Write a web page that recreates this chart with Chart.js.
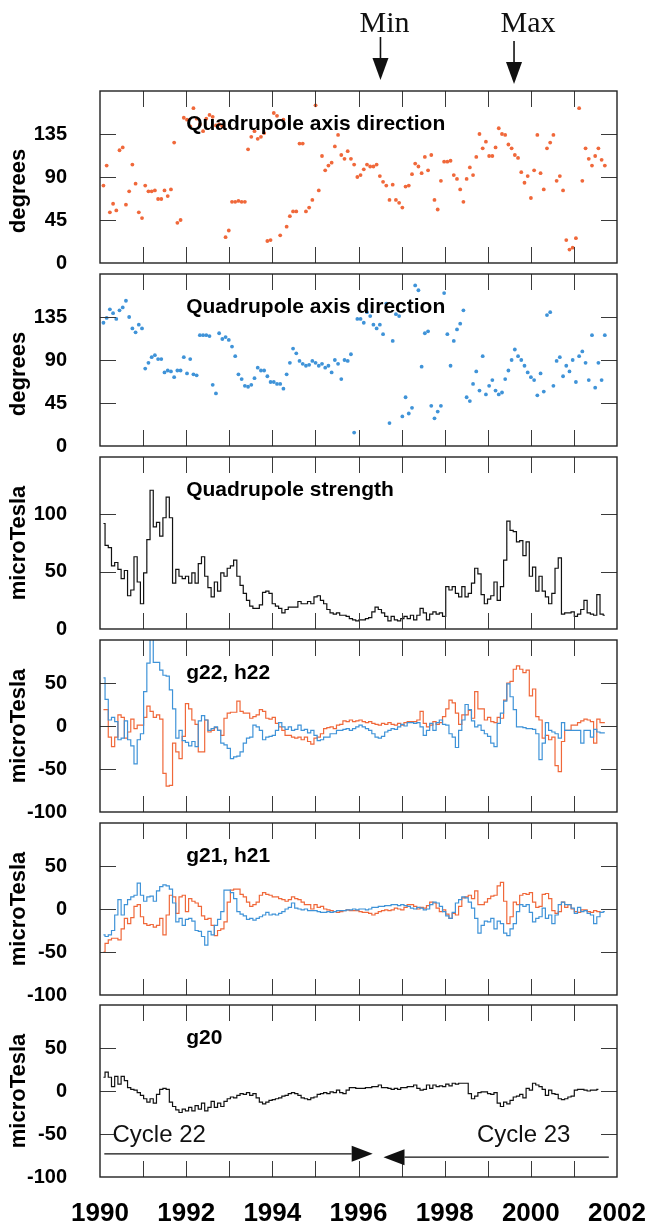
<!DOCTYPE html>
<html>
<head>
<meta charset="utf-8">
<script src="https://cdn.jsdelivr.net/npm/chart.js@4.4.1/dist/chart.umd.min.js"></script>
<style>
  html, body { margin: 0; padding: 0; background: #fff; }
  #wrap { position: relative; width: 652px; height: 1224px; overflow: hidden; background: #fff; }
  #wrap canvas { position: absolute; left: 0; }
</style>
</head>
<body>
<div id="wrap">
  <canvas id="p1"></canvas>
  <canvas id="p2"></canvas>
  <canvas id="p3"></canvas>
  <canvas id="p4"></canvas>
  <canvas id="p5"></canvas>
  <canvas id="p6"></canvas>
</div>
<script>
/* Quadrupole coefficients, one value per solar rotation, 1990-2001 */

// time grid: first rotation and rotation length in years
const T0 = 1990.08;
const ROT = 0.0746;

const yearTicks = [1990, 1992, 1994, 1996, 1998, 2000, 2002];

// panel 1 - quadrupole axis direction (degrees), orange
const axisDirA = [
    81, 102, 53, 62, 55, 118, 121, 61, 75, 103,
    83, 53, 47, 81, 75, 75, 76, 67, 67, 76,
    70, 77, 126, 42, 45, 152, 150, 143, 162, 151,
    145, 138, 151, 155, 153, 144, 145, 143, 27, 34,
    64, 64, 65, 64, 64, 119, 132, 138, 130, 132,
    136, 23, 24, 157, 154, 29, 150, 38, 49, 54,
    54, 125, 125, 54, 58, 66, 165, 76, 112, 97,
    102, 105, 122, 134, 113, 109, 117, 109, 103, 90,
    92, 98, 103, 101, 101, 103, 91, 85, 81, 66,
    82, 66, 63, 58, 80, 81, 93, 104, 101, 94,
    111, 97, 113, 66, 56, 86, 106, 106, 107, 92,
    88, 77, 64, 88, 100, 92, 111, 135, 120, 127,
    112, 112, 121, 141, 135, 134, 124, 120, 113, 110,
    95, 84, 91, 68, 97, 134, 94, 77, 120, 126,
    134, 86, 91, 76, 24, 14, 16, 26, 162, 86,
    120, 109, 102, 112, 120, 108, 102,
];

// panel 2 - quadrupole axis direction (degrees), blue
const axisDirB = [
    129, 134, 143, 139, 133, 142, 145, 152, 135, 123,
    119, 127, 123, 81, 87, 93, 95, 91, 91, 77,
    79, 78, 72, 79, 79, 93, 76, 91, 75, 74,
    116, 116, 116, 115, 64, 55, 118, 112, 114, 111,
    104, 94, 75, 70, 63, 62, 64, 71, 82, 79,
    79, 73, 67, 67, 65, 65, 60, 75, 87, 102,
    97, 89, 86, 84, 85, 89, 87, 84, 86, 82,
    84, 77, 90, 86, 70, 90, 89, 96, 14, 133,
    133, 129, 140, 136, 127, 123, 127, 117, 149, 24,
    110, 138, 136, 31, 51, 34, 40, 168, 163, 83,
    118, 120, 42, 29, 36, 42, 160, 117, 84, 110,
    122, 128, 142, 51, 47, 65, 78, 58, 94, 54,
    63, 69, 58, 54, 56, 70, 79, 90, 101, 94,
    90, 84, 77, 72, 69, 53, 76, 57, 137, 140,
    63, 89, 93, 73, 84, 78, 90, 67, 94, 99,
    87, 69, 116, 61, 87, 69, 116,
];

// panel 3 - quadrupole strength (microTesla)
const strength = [
    92, 73, 71, 55, 58, 52, 44, 51, 29, 34,
    63, 41, 22, 49, 78, 121, 89, 93, 81, 97,
    115, 97, 40, 52, 46, 44, 46, 40, 49, 40,
    57, 63, 46, 36, 28, 41, 33, 49, 46, 53,
    55, 60, 46, 38, 31, 25, 20, 18, 18, 21,
    32, 33, 31, 22, 20, 18, 14, 17, 19, 19,
    19, 24, 22, 22, 24, 22, 28, 29, 25, 22,
    17, 14, 13, 14, 12, 12, 11, 9, 8, 7,
    8, 8, 9, 10, 15, 19, 17, 14, 11, 7,
    11, 8, 7, 9, 11, 9, 12, 8, 12, 18,
    14, 8, 13, 15, 13, 14, 11, 37, 34, 37,
    31, 28, 37, 28, 31, 40, 53, 48, 30, 22,
    26, 29, 41, 25, 37, 60, 94, 86, 85, 76,
    77, 64, 76, 46, 54, 33, 46, 33, 28, 22,
    31, 53, 62, 13, 14, 14, 15, 11, 13, 17,
    25, 14, 13, 12, 30, 13, 12,
];

// panel 4 - g22 (orange), h22 (blue)
const g22 = [
    19, 19, -13, -24, -13, 13, 10, -14, -7, 8,
    -3, 1, 1, 10, 23, 17, 10, 13, 8, -55,
    -70, -69, -20, -30, -38, -12, 26, 20, 7, 2,
    -30, -30, 7, -7, -5, -2, -5, -11, 9, 15,
    16, 16, 29, 17, 15, 15, 9, 11, 13, 19,
    17, 9, 8, 10, 3, -1, -5, -11, -11, -13,
    -14, -13, -16, -13, -18, -21, -14, -13, -9, -3,
    -2, -1, -3, 1, 2, 6, 5, 7, 5, 6,
    7, 5, 4, 5, 3, 2, 1, 3, 2, 4,
    2, 1, 3, 1, 4, 5, 5, 5, 7, 17,
    3, -1, 1, 5, 2, 4, 11, 20, 30, 27,
    15, 2, 13, 13, 18, 9, 40, 20, 20, 7,
    10, 5, 4, 10, 9, 30, 50, 52, 66, 70,
    66, 62, 65, 35, 43, 11, 7, -14, -11, -16,
    -13, -46, -53, -18, -5, -5, 1, 1, 4, 6,
    8, 7, 5, -20, 8, 4, 4,
];
const h22 = [
    56, 31, 7, 10, 5, -16, -14, 6, -16, -23,
    -44, -16, -9, 40, 73, 110, 74, 74, 65, 59,
    58, 42, 20, -14, -5, -17, -19, -23, -18, -24,
    6, 12, 7, -5, -3, -1, -5, -20, -22, -26,
    -38, -36, -35, -30, -20, -14, -13, 1, -1, -5,
    -16, -13, -12, -11, -5, 4, -1, -4, -1, -5,
    -4, 1, -5, -4, -8, -5, -11, -17, -16, -13,
    -13, -9, -9, -5, -5, -4, -3, -5, -3, -1,
    1, -1, -3, -5, -9, -13, -14, -12, -7, -5,
    -3, -4, -1, 2, 0, 4, 4, 3, 4, -1,
    -11, -5, 3, -5, 4, 7, 2, 1, -9, -13,
    -25, -5, 7, 25, 19, 6, -1, 1, -5, -9,
    -12, -20, -24, 3, 15, 29, 49, 34, 19, -1,
    -1, -2, -3, -3, -4, -9, -39, -20, 4, -5,
    -7, -9, -14, 4, -5, -5, -5, -5, -5, -20,
    -5, -5, -13, -4, -7, -8, -8,
];

// panel 5 - g21 (orange), h21 (blue)
const g21 = [
    -50, -40, -36, -34, -34, -36, -23, -11, -17, -10,
    3, 5, -9, -17, -19, -18, -21, -19, -11, -30,
    -7, 16, 14, -5, 14, 16, -3, 12, 9, 7,
    3, -8, -12, -11, -19, -31, -25, -23, -15, 8,
    22, 23, 23, 17, 14, 8, 3, 5, 8, 16,
    19, 17, 16, 14, 14, 12, 11, 9, 11, 14,
    12, 11, 8, 5, 5, 0, 5, 2, 3, 0,
    -1, -2, -3, -4, -3, -2, -1, -2, -2, -2,
    -3, -4, -4, -5, -7, -5, -3, -2, -1, -2,
    -1, 1, 0, -1, 2, 5, 5, 3, 0, 2,
    1, 4, 8, 7, 1, -3, -1, -6, -11, -5,
    -7, 3, 13, 14, 16, 12, 21, 5, 5, 8,
    12, 15, 16, 27, 31, 9, -17, -9, 8, 5,
    16, 18, 17, 19, 8, 2, 3, 17, 18, 12,
    -2, -5, -3, 8, 2, 5, 0, -3, -4, -1,
    -1, -3, -4, -2, -3, -4,
];
const h21 = [
    -30, -32, -30, -25, -7, 11, -7, 5, 11, 14,
    16, 30, 16, 9, 14, 15, 9, 21, 26, 28,
    27, 23, 7, -15, -11, -19, -12, -11, -14, -25,
    -26, -32, -42, -26, -30, -19, -12, -3, 22, 22,
    19, 12, -3, -6, -8, -12, -11, -13, -11, -9,
    -7, -4, -7, -6, -7, -5, -3, 0, 2, 7,
    1, 0, -1, 0, -2, -2, -2, -3, -4, -4,
    -3, -4, -3, -2, -2, -2, -1, -1, 0, -1,
    0, 0, -1, 0, 2, 2, 3, 3, 4, 4,
    5, 5, 4, 5, 4, 3, 1, 0, 2, 1,
    -1, 0, 5, 8, 7, 3, -3, -8, -11, -4,
    7, 11, 14, 13, 8, 1, -11, -28, -19, -14,
    -15, -11, -23, -14, -17, -28, -31, -23, -17, -3,
    5, 3, 5, -4, -15, -11, -9, 1, -11, -7,
    -17, -7, 5, 8, 5, 5, 1, -5, 2, -3,
    -2, -5, -7, -17, -9, -4, -3,
];

// panel 6 - g20
const g20 = [
    16, 22, 16, 5, 17, 8, 17, 12, 4, 2,
    1, -2, -5, -9, -13, -9, -14, -4, 2, 3,
    2, -13, -18, -22, -25, -21, -23, -19, -23, -17,
    -21, -14, -23, -19, -12, -19, -14, -18, -12, -9,
    -7, -8, -5, -3, -4, -2, -5, -3, -8, -13,
    -15, -13, -11, -10, -9, -8, -6, -5, -3, -2,
    -3, -5, -8, -9, -10, -8, -7, -4, -3, -2,
    -3, -1, -2, 1, -2, -3, 1, 4, 4, 3,
    3, 3, 4, 4, 5, 5, 7, 4, 4, 3,
    2, 3, 2, 4, 4, 5, 5, 7, 3, 1,
    2, 7, 3, 7, 5, 6, 5, 8, 6, 9,
    8, 9, 9, 9, -3, -9, -6, -2, -1, -1,
    -3, -4, -2, -14, -18, -13, -15, -11, -7, -6,
    -4, -8, 3, 1, 9, 7, 5, 2, -5, 1,
    -3, -4, -9, -10, -9, -7, -6, 1, 2, 2,
    1, 0, 1, 1, 2,
];

// solar cycle marks
const cycleMin = 1996.51;
const cycleMax = 1999.61;

const RED = '#f0683a';
const BLUE = '#3f93d8';
const BLACK = '#111111';
const SANS = '"Liberation Sans", Arial, Helvetica, sans-serif';
const SERIF = '"Liberation Serif", "Times New Roman", serif';

const PAGE_H = 1224;
const LEFT = 100;
const RIGHT = 617;
const PANEL_H = 172;

function toXY(vals) {
    return vals.map((v, i) => ({ x: T0 + i * ROT, y: v }));
}

function pointSet(label, vals, color) {
    return {
        label, data: toXY(vals), showLine: false,
        pointStyle: 'circle', pointRadius: 1.9, pointBorderWidth: 0,
        pointBackgroundColor: color, borderColor: color,
    };
}

function stepSet(label, vals, color) {
    return {
        label, data: toXY(vals), stepped: 'middle',
        borderColor: color, borderWidth: 1.2, pointRadius: 0, fill: false,
    };
}

// arrow with filled triangular head, coordinates in pixels
function arrow(ctx, x1, y1, x2, y2, headLen, headHalf) {
    const ang = Math.atan2(y2 - y1, x2 - x1);
    const bx = x2 - headLen * Math.cos(ang);
    const by = y2 - headLen * Math.sin(ang);
    ctx.beginPath();
    ctx.moveTo(x1, y1);
    ctx.lineTo(bx, by);
    ctx.stroke();
    ctx.beginPath();
    ctx.moveTo(x2, y2);
    ctx.lineTo(bx + headHalf * Math.sin(ang), by - headHalf * Math.cos(ang));
    ctx.lineTo(bx - headHalf * Math.sin(ang), by + headHalf * Math.cos(ang));
    ctx.closePath();
    ctx.fill();
}

const panelDecor = {
    id: 'panelDecor',
    afterDatasetsDraw(chart, args, opts) {
        const { ctx, chartArea: a, scales: { x, y } } = chart;
        ctx.save();
        // inward ticks
        ctx.strokeStyle = '#3a3a3a';
        ctx.lineWidth = 1;
        ctx.beginPath();
        for (let yr = x.min + 1; yr < x.max; yr++) {
            const px = Math.round(x.getPixelForValue(yr)) + 0.5;
            ctx.moveTo(px, a.top); ctx.lineTo(px, a.top + 16);
            ctx.moveTo(px, a.bottom); ctx.lineTo(px, a.bottom - 16);
        }
        y.ticks.forEach(t => {
            if (t.value <= y.min || t.value >= y.max) return;
            const py = Math.round(y.getPixelForValue(t.value)) + 0.5;
            ctx.moveTo(a.left, py); ctx.lineTo(a.left + 16, py);
            ctx.moveTo(a.right, py); ctx.lineTo(a.right - 16, py);
        });
        ctx.stroke();
        // frame
        ctx.strokeStyle = '#222';
        ctx.lineWidth = 1.4;
        ctx.strokeRect(a.left, a.top, a.right - a.left, a.bottom - a.top);
        // title
        ctx.fillStyle = '#000';
        ctx.font = 'bold 21px ' + SANS;
        ctx.textAlign = 'left';
        ctx.textBaseline = 'alphabetic';
        ctx.fillText(opts.title, x.getPixelForValue(1992), a.top + 39);
        // y axis title
        ctx.save();
        ctx.translate(19, (a.top + a.bottom) / 2 + (opts.yShift || 0));
        ctx.rotate(-Math.PI / 2);
        ctx.font = 'bold 22px ' + SANS;
        ctx.textAlign = 'center';
        ctx.textBaseline = 'middle';
        ctx.fillText(opts.yTitle, 0, 0);
        ctx.restore();
        if (opts.extra) opts.extra(chart);
        ctx.restore();
    },
};

function drawMinMax(chart) {
    const { ctx, scales: { x } } = chart;
    ctx.fillStyle = '#111';
    ctx.strokeStyle = '#111';
    ctx.lineWidth = 1.6;
    const xm = x.getPixelForValue(cycleMin);
    const xM = x.getPixelForValue(cycleMax);
    arrow(ctx, xm, 37, xm, 80, 22, 8);
    arrow(ctx, xM, 41, xM, 84, 22, 8);
    ctx.font = '30px ' + SERIF;
    ctx.textAlign = 'center';
    ctx.textBaseline = 'alphabetic';
    ctx.fillText('Min', xm + 4, 32);
    ctx.fillText('Max', xM + 14, 32);
}

function drawCycles(chart) {
    const { ctx, scales: { x, y } } = chart;
    ctx.fillStyle = '#111';
    ctx.strokeStyle = '#111';
    ctx.lineWidth = 1.3;
    arrow(ctx, x.getPixelForValue(1990.1), y.getPixelForValue(-73),
        x.getPixelForValue(1996.33), y.getPixelForValue(-73), 21, 8);
    arrow(ctx, x.getPixelForValue(2001.81), y.getPixelForValue(-77),
        x.getPixelForValue(1996.58), y.getPixelForValue(-77), 21, 8);
    ctx.font = '24px ' + SANS;
    ctx.textAlign = 'left';
    ctx.textBaseline = 'alphabetic';
    ctx.fillText('Cycle 22', x.getPixelForValue(1990.29), y.getPixelForValue(-59));
    ctx.fillText('Cycle 23', x.getPixelForValue(1998.75), y.getPixelForValue(-59));
}

const PANELS = [
    { id: 'p1', top: 91, min: 0, max: 180, step: 45, title: 'Quadrupole axis direction',
      yTitle: 'degrees', yShift: 14, extra: drawMinMax,
      datasets: [pointSet('axis direction', axisDirA, RED)] },
    { id: 'p2', top: 274, min: 0, max: 180, step: 45, title: 'Quadrupole axis direction',
      yTitle: 'degrees', yShift: 14,
      datasets: [pointSet('axis direction', axisDirB, BLUE)] },
    { id: 'p3', top: 457, min: 0, max: 150, step: 50, title: 'Quadrupole strength',
      yTitle: 'microTesla',
      datasets: [stepSet('strength', strength, BLACK)] },
    { id: 'p4', top: 640, min: -100, max: 100, step: 50, title: 'g22, h22',
      yTitle: 'microTesla',
      datasets: [stepSet('h22', h22, BLUE), stepSet('g22', g22, RED)] },
    { id: 'p5', top: 823, min: -100, max: 100, step: 50, title: 'g21, h21',
      yTitle: 'microTesla',
      datasets: [stepSet('h21', h21, BLUE), stepSet('g21', g21, RED)] },
    { id: 'p6', top: 1005, min: -100, max: 100, step: 50, title: 'g20',
      yTitle: 'microTesla', extra: drawCycles, last: true,
      datasets: [stepSet('g20', g20, BLACK)] },
];

PANELS.forEach((p, i) => {
    const canvas = document.getElementById(p.id);
    const cTop = i === 0 ? 0 : p.top - 12;
    const cH = p.last ? PAGE_H - cTop : p.top + PANEL_H + 12 - cTop;
    canvas.width = 652;
    canvas.height = cH;
    canvas.style.top = cTop + 'px';
    canvas.style.width = '652px';
    canvas.style.height = cH + 'px';

    new Chart(canvas, {
        type: 'line',
        data: { datasets: p.datasets },
        plugins: [panelDecor],
        options: {
            responsive: false,
            animation: false,
            devicePixelRatio: 1,
            layout: { padding: { top: p.top - cTop, bottom: p.last ? 0 : 12, left: 0, right: 652 - RIGHT } },
            plugins: {
                legend: { display: false },
                tooltip: { enabled: false },
                panelDecor: { title: p.title, yTitle: p.yTitle, yShift: p.yShift, extra: p.extra },
            },
            scales: {
                x: {
                    type: 'linear', min: 1990, max: 2002,
                    display: !!p.last,
                    grid: { display: false },
                    border: { display: false },
                    afterBuildTicks: (s) => { s.ticks = yearTicks.map(v => ({ value: v })); },
                    afterFit: (s) => {
                        s.height = p.last ? PAGE_H - (p.top + PANEL_H) : 0;
                        s.paddingLeft = 0;
                        s.paddingRight = 0;
                    },
                    ticks: {
                        color: '#000', autoSkip: false, maxRotation: 0, padding: 13,
                        font: { family: SANS, size: 26, weight: 'bold' },
                        callback: (v) => String(v),
                    },
                },
                y: {
                    type: 'linear', min: p.min, max: p.max,
                    grid: { display: false },
                    border: { display: false },
                    afterFit: (s) => { s.width = LEFT; s.paddingTop = 0; s.paddingBottom = 0; },
                    ticks: {
                        stepSize: p.step, color: '#000', padding: 25,
                        font: { family: SANS, size: 20, weight: 'bold' },
                        callback: (v) => (v === p.max ? '' : String(v)),
                    },
                },
            },
        },
    });
});
</script>
</body>
</html>
